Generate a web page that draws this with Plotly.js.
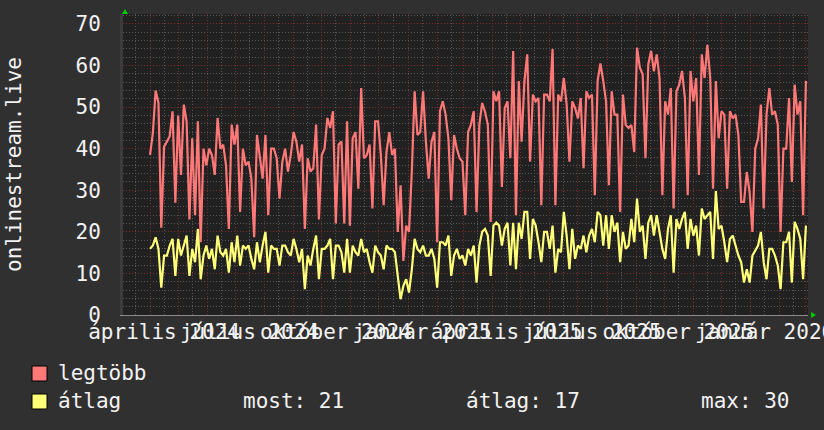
<!DOCTYPE html>
<html>
<head>
<meta charset="utf-8">
<script src="https://cdn.plot.ly/plotly-3.0.1.min.js"></script>
<style>html,body{margin:0;padding:0;background:#303030;}#chart{width:824px;height:430px;}</style>
</head>
<body>
<div id="chart"></div>
<script>
// ---- data ----
const START_DATE = '2024-04-01';
const STEP_DAYS = 3;
const legtobb = [
38.5,43.7,54,51,21,40.5,41.7,43,49,27,
48,33.7,50.6,46.6,23,42.5,24,46.6,17.5,40,
36,40,38.5,33.7,47.4,40,41,36,20.7,45.8,
41,45.8,24.8,40,36,36.9,32.8,18.7,43.3,38.5,
32.8,43.3,24,40,40,37.7,28,36.9,40,34.5,
38.5,44,41.7,36.9,41,20.7,37.7,34.5,35.3,45.8,
23,38.5,40,47.4,45,49,22,41,41.7,22,
46.6,21.5,42.5,44,30.4,54.6,37.7,38.5,41,25.6,
46.6,46.6,38.5,26.4,39.2,44,38.5,40,20,31.2,
13,21.5,20,34.5,53.8,43.3,44,53.8,41.7,32.8,
41.7,44,17.5,49,51.4,48.2,42.5,27.6,43.3,40,
37.7,36.9,24,44,45.8,49,24.8,45.8,51,48.9,
45.8,22.4,53.8,51.4,53.8,30.8,49.8,51.4,37.7,63.5,
24,56.3,41.7,56.3,62.7,36.9,53,51.4,52.2,26.4,
53,53,51.4,64,26.4,53,51.4,57,50.6,36.9,
51.4,49.8,47.3,52.2,35.3,53.8,52.2,53,28.8,56.3,
60.5,56.3,51.4,31.2,53.8,48.2,48.2,24.8,53,45.7,
45,45.7,39.2,64.3,59.5,57.9,37.7,60.3,63.5,58.6,
62.7,57,28.8,51.4,48.2,54.6,25.6,53.8,55.4,58.7,
52.2,28.8,58.7,51.4,57,33.7,62.7,57,65,57,
30.4,56.3,42.5,49,48.2,30.4,49,47.3,48.2,43.3,
27.2,27.2,34.4,29.5,20,40,42.5,50.6,25.6,48.2,
54.6,48.2,49,45.8,20,40,40,52.2,32,55.4,
48.2,51.4,24,56.3];
const atlag = [
15.9,16.7,18.7,15.9,6.6,14.3,14.3,16.7,18.3,9.4,
18.3,14.3,16.7,19.1,9.4,15.9,12.7,20.7,8.6,14.3,
16.7,13.5,15.9,11,19.1,15.1,14.3,15.9,10.2,17.5,
12.7,19.1,11.9,16.7,15.9,16.7,13.5,11,17.5,12.7,
16.7,20,10.2,16.7,15.9,15.9,11.9,16.7,16.7,15.1,
14.3,18.3,15.9,12.7,15.9,6.2,14.3,11.9,15.9,19.1,
8.6,15.9,15.9,16.7,18.3,8.6,16.7,16.7,15.1,10.2,
18.3,10.2,16.7,15.1,14.3,18.3,15.1,15.9,12.7,10.2,
16.7,15.1,14.3,11,16.7,15.9,15.9,15.1,9.4,3.8,
7,8.6,5.4,11,18.3,15.9,15.1,16.7,14.3,14.3,
15.9,13.5,6.6,17.5,17.5,16.7,19.1,9.4,14.3,15.9,
13.5,14.3,11.9,15.9,14.3,16.7,7.8,16.7,20,20.7,
19.1,9.4,21.5,22.2,21.5,16.7,20.7,22.2,11.9,22.2,
11,22.2,18.3,24.8,24.8,13.5,23.1,21.5,17.5,12.7,
20,20,15.9,21.5,10.2,15.9,15.1,24.8,19.1,11,
20.7,13.5,16.7,15.9,19.1,15.1,19.1,20.7,17.5,24.8,
24,16.7,24,15.9,24,20,22.2,12.7,20,15.9,
16.7,23.1,17.5,28,20,21.5,13.5,22.2,24,19.1,
24,20,15.9,13.5,20.7,24,10.2,23.1,20.7,23.1,
24.8,15.9,23.1,19.1,21.5,14.3,25.6,23.1,24,24.8,
13.5,29.8,20.7,21.5,17.5,12.7,18.3,19.1,16.7,14.3,
12.7,7.8,11,7.8,14.3,15.6,16.7,20,12.7,8.6,
15.9,15.9,14.3,11.9,6.2,17.5,17.5,20,7.8,22.4,
20.7,18.3,8.6,21.5];
const xTickLabels = ['április 2024','július 2024','október 2024','január 2025',
                     'április 2025','július 2025','október 2025','január 2026'];
const xTickDates  = ['2024-04-16','2024-07-16','2024-10-16','2025-01-16',
                     '2025-04-16','2025-07-16','2025-10-16','2026-01-16'];
const yTitle = 'onlinestream.live';
const seriesNames = ['legtöbb','átlag'];
const statLabels = ['most: 21','átlag: 17','max: 30'];

// ---- build ----
function isoDay(ms){ return new Date(ms).toISOString().slice(0,10); }
const t0 = Date.parse(START_DATE + 'T00:00:00Z');
const dates = legtobb.map((_, i) => isoDay(t0 + i*STEP_DAYS*86400000));

const monthStarts = [], midMonths = [];
for (let m = 0; m < 24; m++) {
  monthStarts.push(isoDay(Date.UTC(2024, 3 + m, 1)));
}
for (let m = 0; m < 24; m++) {
  midMonths.push(isoDay(Date.UTC(2024, 2 + m, 16)));
}

const FONT = 'DejaVu Sans Mono';
const TXT = '#f2f2f2';
const RED = '#ff7878', YEL = '#ffff78';
const GRID_MAJ = '#7a2f2f', GRID_MIN = '#585858';
const L = 123, R = 808, T = 14, B = 315;
const px2x = p => (p - L) / (R - L);
const py2y = p => (B - p) / (B - T);
const xRange = ['2024-03-03 05:00', '2026-03-03 05:00'];

const traces = [
  {x: dates, y: legtobb, type: 'scatter', mode: 'lines', name: seriesNames[0],
   line: {color: RED, width: 2.2}, xaxis: 'x', yaxis: 'y', hoverinfo: 'skip'},
  {x: dates, y: atlag, type: 'scatter', mode: 'lines', name: seriesNames[1],
   line: {color: YEL, width: 2.2}, xaxis: 'x2', yaxis: 'y', hoverinfo: 'skip'}
];

const layout = {
  width: 824, height: 430,
  margin: {l: L, r: 824 - R, t: T, b: 430 - B, pad: 0},
  paper_bgcolor: '#303030', plot_bgcolor: '#212121',
  showlegend: false,
  font: {family: FONT, size: 21, color: TXT},
  xaxis: {
    type: 'date', range: xRange, fixedrange: true,
    tickmode: 'array', tickvals: monthStarts, showticklabels: false,
    showgrid: true, gridcolor: GRID_MAJ, gridwidth: 1, griddash: '1px,2px',
    minor: {tickmode: 'array', tickvals: midMonths, showgrid: true,
            gridcolor: GRID_MIN, gridwidth: 1, griddash: '1px,2px'},
    zeroline: false, showline: true, linecolor: '#8a8a8a', linewidth: 1, ticks: ''
  },
  xaxis2: {
    type: 'date', range: xRange, fixedrange: true, overlaying: 'x', anchor: 'y', side: 'bottom',
    tickmode: 'array', tickvals: xTickDates, ticktext: xTickLabels,
    tickangle: 0, ticklabeloverflow: 'allow', showgrid: false, zeroline: false,
    showline: false, ticks: '', ticklabelstandoff: 2,
    tickfont: {family: FONT, size: 21, color: TXT}
  },
  yaxis: {
    range: [0, 72.4], fixedrange: true,
    tickmode: 'linear', tick0: 0, dtick: 10,
    showgrid: true, gridcolor: GRID_MAJ, gridwidth: 1, griddash: '1px,2px',
    minor: {dtick: 2, showgrid: true, gridcolor: GRID_MIN, gridwidth: 1, griddash: '1px,2px'},
    zeroline: false, showline: true, linecolor: '#3c3c3c', linewidth: 3,
    ticks: '', ticklabelstandoff: 15,
    tickfont: {family: FONT, size: 21, color: TXT}
  },
  shapes: [
    {type: 'rect', xref: 'paper', yref: 'paper', x0: px2x(32), x1: px2x(47), y0: py2y(381), y1: py2y(366),
     fillcolor: RED, line: {color: '#000000', width: 1}},
    {type: 'rect', xref: 'paper', yref: 'paper', x0: px2x(32), x1: px2x(47), y0: py2y(409), y1: py2y(394),
     fillcolor: YEL, line: {color: '#000000', width: 1}},
    {type: 'path', xref: 'paper', yref: 'paper', xsizemode: 'pixel', ysizemode: 'pixel',
     xanchor: px2x(125), yanchor: 1, path: 'M-3,0 L3,0 L0,5 Z',
     fillcolor: '#00cc00', line: {width: 0}},
    {type: 'path', xref: 'paper', yref: 'paper', xsizemode: 'pixel', ysizemode: 'pixel',
     xanchor: 1, yanchor: 0, path: 'M3,-3 L3,3 L8,0 Z',
     fillcolor: '#00cc00', line: {width: 0}}
  ],
  annotations: [
    {text: yTitle, xref: 'paper', yref: 'paper', x: px2x(14), y: py2y(164), textangle: -90,
     xanchor: 'center', yanchor: 'middle', showarrow: false, font: {family: FONT, size: 21, color: TXT}},
    {text: seriesNames[0], xref: 'paper', yref: 'paper', x: px2x(56), y: py2y(373), xanchor: 'left', yanchor: 'middle',
     showarrow: false, font: {family: FONT, size: 21, color: TXT}},
    {text: seriesNames[1], xref: 'paper', yref: 'paper', x: px2x(56), y: py2y(401), xanchor: 'left', yanchor: 'middle',
     showarrow: false, font: {family: FONT, size: 21, color: TXT}},
    {text: statLabels[0], xref: 'paper', yref: 'paper', x: px2x(241), y: py2y(401), xanchor: 'left', yanchor: 'middle',
     showarrow: false, font: {family: FONT, size: 21, color: TXT}},
    {text: statLabels[1], xref: 'paper', yref: 'paper', x: px2x(464), y: py2y(401), xanchor: 'left', yanchor: 'middle',
     showarrow: false, font: {family: FONT, size: 21, color: TXT}},
    {text: statLabels[2], xref: 'paper', yref: 'paper', x: px2x(699), y: py2y(401), xanchor: 'left', yanchor: 'middle',
     showarrow: false, font: {family: FONT, size: 21, color: TXT}}
  ]
};

Plotly.newPlot('chart', traces, layout, {staticPlot: true, displayModeBar: false});
</script>
</body>
</html>
